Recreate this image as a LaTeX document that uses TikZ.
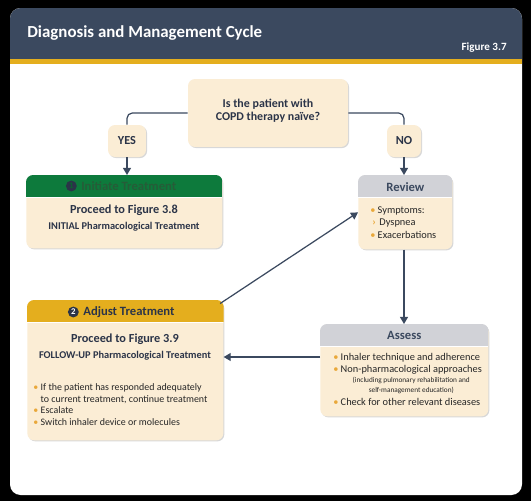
\documentclass[tikz,border=0pt]{standalone}
\usepackage{fontspec}
\setmainfont{Carlito}
\definecolor{navy}{RGB}{59,73,95}
\definecolor{darknavy}{RGB}{43,52,72}
\definecolor{goldbar}{RGB}{228,174,30}
\definecolor{initgreen}{RGB}{13,122,60}
\definecolor{initgreentext}{RGB}{38,92,56}
\definecolor{palebeige}{RGB}{251,237,213}
\definecolor{greyhead}{RGB}{209,210,215}
\definecolor{dotorange}{RGB}{233,168,58}
\usetikzlibrary{arrows.meta, positioning, calc, shadows}
\newcommand{\bul}{\makebox[4.2pt][l]{\textcolor{dotorange}{\textbullet}}}
\newcommand{\subbul}{\makebox[4pt][l]{\textcolor{dotorange}{\bfseries ›}}}

\begin{document}
\begin{tikzpicture}[
  x=0.02cm, y=-0.02cm,
  card/.style={fill=palebeige, rounded corners=4pt, inner sep=0pt,
    drop shadow={opacity=0.3, shadow xshift=0.6pt, shadow yshift=-0.6pt}},
  tag/.style={card, font=\fontsize{7}{8}\selectfont\bfseries, text=darknavy},
  hdrtext/.style={font=\fontsize{7.2}{8}\selectfont\bfseries, inner sep=0pt},
  numdot/.style={circle, fill=darknavy, inner sep=0pt, minimum size=6.2pt, font=\fontsize{5}{5}\selectfont\bfseries},
  bodytext/.style={inner sep=0pt, align=center, text=darknavy},
  listtext/.style={inner sep=0pt, align=left, text=black!85},
  flow/.style={draw=navy, line width=0.7pt, rounded corners=3pt},
  arr/.style={flow, -{Triangle[length=4pt, width=4.5pt]}}
]
  % frame
  \fill[black] (0,0) rectangle (531,501);
  \fill[white, rounded corners=6pt] (10,8) rectangle (522,495);
  \begin{scope}
    \clip[rounded corners=6pt] (10,8) rectangle (522,495);
    \fill[navy] (10,8) rectangle (522,59);
    \fill[goldbar] (10,59) rectangle (522,64);
  \end{scope}
  \node[anchor=west, inner sep=0pt, text=white, font=\fontsize{9.6}{11}\selectfont\bfseries] (title) at (27,33) {Diagnosis and Management Cycle};
  \node[anchor=east, inner sep=0pt, text=white, font=\fontsize{6.3}{7}\selectfont\bfseries] (fignum) at (507,48) {Figure 3.7};

  % question and answers
  \node[card, minimum width=3.2cm, minimum height=1.36cm] (question) at (268,113) {};
  \node[bodytext, font=\fontsize{6.8}{7.4}\selectfont\bfseries] (qtext) at (268,111) {Is the patient with\\COPD therapy naïve?};
  \node[tag, minimum width=0.76cm, minimum height=0.64cm] (yes) at (127,141) {YES};
  \node[tag, minimum width=0.68cm, minimum height=0.64cm] (no) at (404,141) {NO};

  % cards
  \node[card, minimum width=3.92cm, minimum height=1.46cm, anchor=north west] (init) at (26,175) {};
  \node[card, minimum width=1.88cm, minimum height=1.48cm, anchor=north west] (review) at (358,175) {};
  \node[card, minimum width=3.36cm, minimum height=1.84cm, anchor=north west] (assess) at (320,324) {};
  \node[card, minimum width=3.92cm, minimum height=2.8cm, anchor=north west] (adjust) at (27,300) {};

  % coloured headers
  \foreach \cardname/\col in {init/initgreen, review/greyhead, assess/greyhead, adjust/goldbar} {
    \begin{scope}
      \clip[rounded corners=4pt] (\cardname.north west) rectangle (\cardname.south east);
      \fill[\col] (\cardname.north west) rectangle ([yshift=-0.45cm]\cardname.north east);
      \draw[white, line width=0.6pt] ([yshift=-0.45cm]\cardname.north west) -- ([yshift=-0.45cm]\cardname.north east);
    \end{scope}
  }

  \node[hdrtext, anchor=west, text=initgreentext] (inithdr) at (81,186) {Initiate Treatment};
  \node[numdot, text=initgreen!80!black, left=2.2pt of inithdr] (initnum) {1};
  \node[hdrtext, text=navy] (reviewhdr) at (review.north |- 0,187) {Review};
  \node[hdrtext, text=navy] (assesshdr) at (assess.north |- 0,335) {Assess};
  \node[hdrtext, anchor=west, text=darknavy] (adjusthdr) at (83,312) {Adjust Treatment};
  \node[numdot, text=white, left=2.2pt of adjusthdr] (adjustnum) {2};

  % card texts
  \node[bodytext, font=\fontsize{7}{8}\selectfont\bfseries] (initfig) at (124,210) {Proceed to Figure 3.8};
  \node[bodytext, font=\fontsize{5.9}{6.5}\selectfont\bfseries] (initsub) at (124,227) {INITIAL Pharmacological Treatment};
  \node[listtext, anchor=north west, font=\fontsize{5.9}{7.1}\selectfont] (reviewlist) at (370,206)
    {\bul Symptoms:\\\hspace*{1.2pt}\subbul Dyspnea\\\bul Exacerbations};
  \node[listtext, anchor=north west, font=\fontsize{5.9}{7.2}\selectfont] (assesslist) at (333,351)
    {\begin{tabular}{@{}l@{}l@{}}
      \bul & Inhaler technique and adherence\\
      \bul & \begin{tabular}[t]{@{}c@{}}Non-pharmacological approaches\\[-1.6pt]
        {\fontsize{4.15}{5.6}\selectfont (including pulmonary rehabilitation and}\\[-1.6pt]
        {\fontsize{4.15}{5.6}\selectfont self-management education)}\end{tabular}\\
      \bul & Check for other relevant diseases
    \end{tabular}};
  \node[bodytext, font=\fontsize{7}{8}\selectfont\bfseries] (adjustfig) at (125,339) {Proceed to Figure 3.9};
  \node[bodytext, font=\fontsize{5.9}{6.5}\selectfont\bfseries] (adjustsub) at (125,356) {FOLLOW-UP Pharmacological Treatment};
  \node[listtext, anchor=north west, font=\fontsize{5.65}{6.7}\selectfont] (adjustlist) at (33,383)
    {\bul If the patient has responded adequately\\
     \hspace*{4.2pt}to current treatment, continue treatment\\
     \bul Escalate\\
     \bul Switch inhaler device or molecules};

  % connectors
  \draw[flow] (question.west) -| (yes.north);
  \draw[flow] (question.east) -| (no.north);
  \draw[arr] (yes.south) -- (yes.south |- init.north);
  \draw[arr] (no.south) -- (no.south |- review.north);
  \draw[arr] (no.south |- review.south) -- (no.south |- assess.north);
  \draw[arr] ([yshift=-0.12cm]assess.west |- assesslist.north) -- ([yshift=-0.12cm]adjust.east |- assesslist.north);
  \draw[arr] ([xshift=-2pt,yshift=-2pt]adjust.north east) -- (review.west);
\end{tikzpicture}
\end{document}
